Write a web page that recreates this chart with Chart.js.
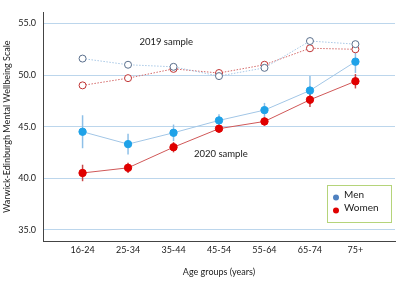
<!DOCTYPE html>
<html>
<head>
<meta charset="utf-8">
<script src="https://cdn.jsdelivr.net/npm/chart.js@4"></script>
<style>
  html, body { margin: 0; padding: 0; background: #fff; }
  #wrap { width: 400px; height: 281px; }
</style>
</head>
<body>
<div id="wrap"><canvas id="myChart" width="400" height="281"></canvas></div>
<script>
// categories
const categories = ['16-24', '25-34', '35-44', '45-54', '55-64', '65-74', '75+'];
const yTicks = [35, 40, 45, 50, 55];

// 2019 sample
const men2019 = [51.6, 51.0, 50.8, 49.9, 50.7, 53.3, 53.0];
const women2019 = [49.0, 49.7, 50.6, 50.2, 51.0, 52.6, 52.5];

// 2020 sample
const men2020 = [44.5, 43.3, 44.4, 45.6, 46.6, 48.5, 51.3];
const women2020 = [40.5, 41.0, 43.0, 44.8, 45.5, 47.6, 49.4];

// error bars (half width)
const men2020Err = [1.6, 1.0, 0.8, 0.6, 0.7, 1.4, 1.1];
const women2020Err = [0.8, 0.5, 0.5, 0.4, 0.4, 0.7, 0.7];

const seriesNames = ['Men', 'Women'];

function toPoints(arr) {
    return arr.map((v, i) => ({ x: i, y: v }));
}

// error bars, text labels and legend box
const extras = {
    id: 'extras',
    beforeDatasetsDraw(chart) {
        const ctx = chart.ctx;
        const xs = chart.scales.x, ys = chart.scales.y;
        const bars = [[men2020, men2020Err, '#8ec0e8'], [women2020, women2020Err, '#c84848']];
        ctx.save();
        ctx.lineWidth = 1.5;
        bars.forEach(([vals, errs, col]) => {
            ctx.strokeStyle = col;
            vals.forEach((v, i) => {
                const px = xs.getPixelForValue(i);
                ctx.beginPath();
                ctx.moveTo(px, ys.getPixelForValue(v - errs[i]));
                ctx.lineTo(px, ys.getPixelForValue(v + errs[i]));
                ctx.stroke();
            });
        });
        ctx.restore();
    },
    afterDraw(chart) {
        const ctx = chart.ctx;
        const xs = chart.scales.x, ys = chart.scales.y;
        ctx.save();
        ctx.font = '9.5px Lato';
        ctx.fillStyle = '#1a1a1a';
        ctx.textAlign = 'center';
        ctx.textBaseline = 'middle';
        ctx.fillText('2019 sample', xs.getPixelForValue(1.84), ys.getPixelForValue(53.2));
        ctx.fillText('2020 sample', xs.getPixelForValue(3.04), ys.getPixelForValue(42.35));

        // legend
        ctx.fillStyle = '#fff';
        ctx.fillRect(327, 185, 64, 37);
        ctx.strokeStyle = '#b5d47a';
        ctx.lineWidth = 1;
        ctx.strokeRect(327.5, 185.5, 64, 37);
        const dots = ['#4f81c0', '#e00000'];
        ctx.font = '10px Lato';
        seriesNames.forEach((name, i) => {
            ctx.fillStyle = dots[i];
            ctx.beginPath();
            ctx.arc(336, 197.5 + i * 13, 3, 0, Math.PI * 2);
            ctx.fill();
            ctx.fillStyle = '#1a1a1a';
            ctx.textAlign = 'left';
            ctx.fillText(name, 344, 195 + i * 12.5);
        });
        ctx.restore();
    }
};

const ctx = document.getElementById('myChart').getContext('2d');
const myChart = new Chart(ctx, {
    type: 'line',
    data: {
        datasets: [
            {
                data: toPoints(men2020),
                borderColor: '#a2c6e6',
                borderWidth: 1,
                pointBackgroundColor: '#1fa2e8',
                pointBorderColor: '#1fa2e8',
                pointRadius: 3.7
            },
            {
                data: toPoints(women2020),
                borderColor: '#d05858',
                borderWidth: 1,
                pointBackgroundColor: '#e00000',
                pointBorderColor: '#e00000',
                pointRadius: 3.7
            },
            {
                data: toPoints(men2019),
                borderColor: '#a8c8e6',
                borderWidth: 1,
                borderDash: [1.5, 1.5],
                pointBackgroundColor: '#fff',
                pointBorderColor: '#5a6f8c',
                pointBorderWidth: 1,
                pointRadius: 3.5
            },
            {
                data: toPoints(women2019),
                borderColor: '#d46a6a',
                borderWidth: 1,
                borderDash: [1.5, 1.5],
                pointBackgroundColor: '#fff',
                pointBorderColor: '#c03434',
                pointBorderWidth: 1,
                pointRadius: 3.5
            }
        ]
    },
    options: {
        responsive: false,
        animation: false,
        layout: { padding: { top: 0, left: 0, right: 1, bottom: 0 } },
        plugins: {
            legend: { display: false },
            tooltip: { enabled: false }
        },
        scales: {
            x: {
                type: 'linear',
                min: -0.87,
                max: 6.87,
                afterBuildTicks: (scale) => { scale.ticks = categories.map((c, i) => ({ value: i })); },
                afterFit: (scale) => { scale.height = 40; },
                ticks: {
                    callback: (v) => categories[v],
                    font: { family: 'Lato', size: 9 },
                    color: '#1a1a1a',
                    padding: 4,
                    maxRotation: 0
                },
                grid: { display: false, drawTicks: false },
                border: { display: true, color: '#444', width: 1 },
                title: {
                    display: true,
                    text: 'Age groups (years)',
                    font: { family: 'Lato', size: 9 },
                    color: '#1a1a1a',
                    padding: { top: 0, bottom: 4 }
                }
            },
            y: {
                min: 33.9,
                max: 56.08,
                afterBuildTicks: (scale) => { scale.ticks = yTicks.map(v => ({ value: v })); },
                afterFit: (scale) => { scale.width = 43; },
                ticks: {
                    callback: (v) => v.toFixed(1),
                    font: { family: 'Lato', size: 9 },
                    color: '#1a1a1a',
                    padding: 7
                },
                grid: { color: '#bcd6ec', lineWidth: 1, drawTicks: false },
                border: { display: true, color: '#444', width: 1 },
                title: {
                    display: true,
                    text: 'Warwick-Edinburgh Mental Wellbeing Scale',
                    font: { family: 'Lato', size: 9 },
                    color: '#1a1a1a',
                    padding: { top: 2, bottom: 0 }
                }
            }
        }
    },
    plugins: [extras]
});
</script>
</body>
</html>
